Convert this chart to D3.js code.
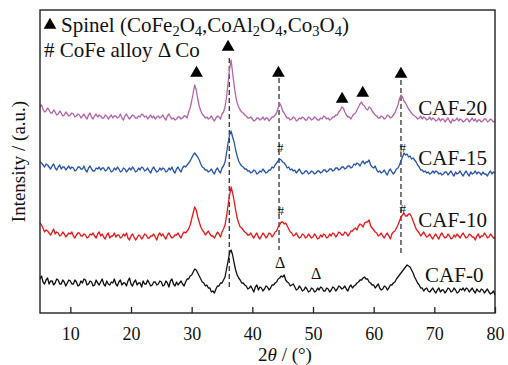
<!DOCTYPE html>
<html>
<head>
<meta charset="utf-8">
<script src="https://cdn.jsdelivr.net/npm/d3@7"></script>
<style>
  body { margin: 0; background: #fff; }
  svg text { font-family: "Liberation Serif", "Times New Roman", serif; fill: #111; }
</style>
</head>
<body>
<svg id="chart" width="508" height="365"></svg>
<script>
// 2theta grid: 5 to 80 deg, 0.25 deg step
const thetaStart = 5;
const thetaStep = 0.25;

const caf0 = [
  34,37,31,29,33,35,29,32,32,28,30,34,33,29,29,33,31,27,30,33,
  32,29,29,33,31,27,28,32,30,34,33,28,29,32,31,27,28,33,30,28,
  31,34,29,27,32,29,28,31,30,34,29,27,31,33,28,30,30,27,32,35,
  29,27,31,33,28,30,30,26,32,29,29,33,30,27,28,31,31,28,29,32,
  31,27,28,32,30,26,32,34,29,27,31,28,30,32,29,27,31,34,34,37,
  38,41,44,43,40,37,34,31,30,27,28,25,25,21,22,20,24,27,27,30,
  30,33,36,44,52,60,63,58,50,43,38,35,33,30,30,28,27,24,25,27,
  24,21,26,28,23,26,25,22,24,27,26,23,25,28,28,30,31,34,35,37,
  36,38,33,31,30,27,28,29,26,23,24,27,25,22,23,26,24,21,22,25,
  24,21,22,25,23,26,25,22,22,25,24,21,23,26,25,22,24,27,26,24,
  25,27,24,22,26,28,25,27,28,30,31,33,33,35,36,34,34,31,30,28,
  28,25,27,29,25,23,24,27,26,23,25,28,28,30,31,34,36,38,40,42,
  44,46,48,47,46,43,40,36,33,30,28,25,25,22,24,25,22,21,23,25,
  22,20,23,25,21,23,23,20,22,25,24,21,22,25,23,20,21,24,23,25,
  22,25,24,21,23,25,22,20,24,22,21,24,23,20,22,24,21,19,20,22,
  18
];
const caf10 = [
  40,38,35,31,33,32,30,28,31,34,29,31,30,27,28,31,29,26,28,30,
  29,31,27,25,28,30,30,27,27,29,28,25,26,29,28,30,27,25,29,31,
  27,29,26,24,28,30,25,27,27,30,26,28,28,25,26,29,27,30,25,23,
  27,29,26,23,25,28,27,24,26,29,28,25,25,27,27,29,26,23,28,30,
  27,29,26,24,28,30,27,25,26,28,28,30,27,25,29,31,30,32,34,38,
  44,50,56,53,46,41,36,33,31,28,30,32,29,27,27,25,28,31,29,26,
  31,34,38,47,58,68,76,70,62,53,45,40,36,35,33,31,30,28,28,30,
  27,25,28,30,26,24,27,30,28,25,27,30,29,26,28,31,32,36,38,41,
  41,39,40,37,34,31,30,27,28,30,27,25,26,29,28,25,26,29,27,25,
  26,29,27,24,25,28,26,29,28,25,26,29,27,30,29,26,28,31,30,28,
  28,31,30,27,29,32,32,34,35,33,37,39,38,36,40,41,41,43,37,35,
  33,31,30,27,28,30,27,25,28,30,27,24,29,31,32,35,38,42,46,48,
  50,47,47,49,49,46,42,38,34,32,30,27,29,31,28,26,27,29,26,24,
  27,29,26,24,28,30,27,25,26,29,27,24,25,28,26,29,27,25,28,30,
  27,25,26,29,28,26,26,23,27,29,25,27,27,30,28,25,26,29,27,25,
  25
];
const caf15 = [
  36,35,33,31,34,33,31,29,32,34,30,28,31,33,29,31,31,28,30,32,
  29,31,30,27,28,31,31,29,29,32,28,26,30,32,29,27,27,30,29,31,
  28,30,30,27,28,31,29,26,27,30,28,31,29,26,27,30,29,26,28,30,
  28,31,29,26,27,30,28,31,30,27,28,30,27,25,29,31,28,26,27,30,
  28,30,29,26,27,30,28,31,27,25,29,31,28,26,30,32,31,33,35,37,
  40,43,45,43,41,38,34,31,30,28,28,26,27,29,26,24,28,30,27,25,
  30,32,36,45,55,63,67,61,56,48,42,37,34,32,31,29,29,27,27,25,
  26,28,27,24,25,27,26,29,27,25,26,28,28,31,30,33,35,37,39,38,
  36,35,33,30,31,28,29,27,28,25,27,29,26,24,25,27,27,24,25,27,
  26,24,25,27,27,25,26,28,28,26,27,29,29,27,28,30,30,28,29,31,
  31,29,30,32,32,30,31,34,33,35,34,32,35,37,34,36,36,38,33,31,
  30,32,28,26,27,25,26,28,25,23,27,29,26,24,26,29,30,33,37,41,
  45,43,44,41,42,39,40,38,36,33,31,28,28,26,27,25,26,24,25,27,
  25,27,26,24,25,23,24,26,26,23,25,27,24,22,26,24,25,27,24,22,
  25,27,24,22,26,24,25,27,24,26,25,23,26,24,24,22,25,27,24,26,
  25
];
const caf20 = [
  36,38,34,31,32,35,33,30,30,33,31,28,29,32,30,27,28,31,29,27,
  28,30,29,26,27,29,28,25,27,29,26,24,28,30,26,24,27,29,26,28,
  27,25,25,28,27,24,26,28,25,27,27,25,26,29,25,23,27,29,26,24,
  26,28,27,25,25,27,26,29,28,26,27,24,26,28,25,27,24,26,27,25,
  26,28,25,23,27,29,26,24,25,23,24,26,26,24,25,27,27,25,31,35,
  42,50,58,53,44,37,32,29,27,25,26,24,25,27,24,22,25,27,26,24,
  29,31,36,46,60,74,83,70,58,47,40,36,33,31,30,28,27,25,25,26,
  24,22,23,25,25,23,24,26,23,25,25,22,24,26,26,28,30,35,40,37,
  32,30,27,25,25,23,24,26,25,22,23,25,24,26,25,23,23,26,25,23,
  24,26,25,23,23,25,24,27,26,24,25,23,24,26,26,28,28,31,33,36,
  35,31,28,26,26,24,27,29,30,33,36,39,41,38,37,34,33,36,35,32,
  30,28,27,25,25,27,26,24,25,28,27,25,26,28,30,34,38,44,48,46,
  42,40,37,34,32,30,28,27,26,24,25,27,24,26,25,23,24,26,23,25,
  24,22,23,25,22,24,24,21,23,25,22,20,24,22,23,25,22,24,23,21,
  22,24,24,21,23,25,22,24,21,23,23,21,22,24,24,21,22,24,23,21,
  22
];

const seriesNames = ["CAF-0", "CAF-10", "CAF-15", "CAF-20"];
const seriesValues = [caf0, caf10, caf15, caf20];
const seriesOffsets = [0, 50, 115, 170];
const seriesColors = ["#111111", "#e3191f", "#2a55a5", "#b166a8"];
const labelTheta = [78.1, 78.7, 78.7, 78.7];
const labelY = [31, 86, 148, 198];

// annotations
const spinelTheta = [30.8, 36.0, 44.3, 54.8, 58.2, 64.5];
const spinelY = [240, 266, 240, 214, 220, 239];
const dashTheta = [36.2, 44.4, 64.5];
const dashTop = [255, 235, 233];
const dashBottom = [23, 63, 57];
const hashTheta = [44.6, 64.8, 44.7, 64.8];
const hashY = [161, 161, 98, 100];
const coTheta = [44.6, 50.5];
const coY = [45, 34];

const xTicks = [10, 20, 30, 40, 50, 60, 70, 80];

const FONT = '"Liberation Serif", "Times New Roman", serif';
const svg = d3.select("#chart").style("font-family", FONT);
const margin = { top: 10, right: 13, bottom: 52, left: 40 };
const W = 508, H = 365;

const x = d3.scaleLinear().domain([5, 80]).range([margin.left, W - margin.right]);
const y = d3.scaleLinear().domain([0, 303]).range([H - margin.bottom, margin.top]);

const plotB = H - margin.bottom;

// dashed reference lines
svg.append("g").selectAll("line")
  .data(dashTheta)
  .join("line")
  .attr("x1", d => x(d)).attr("x2", d => x(d))
  .attr("y1", (d, i) => y(dashTop[i]))
  .attr("y2", (d, i) => y(dashBottom[i]))
  .attr("stroke", "#333")
  .attr("stroke-width", 1.3)
  .attr("stroke-dasharray", "5,3");

// patterns
seriesValues.forEach((vals, s) => {
  const line = d3.line()
    .x((d, i) => x(thetaStart + i * thetaStep))
    .y(d => y(d + seriesOffsets[s]));
  svg.append("path")
    .datum(vals)
    .attr("fill", "none")
    .attr("stroke", seriesColors[s])
    .attr("stroke-width", 1.3)
    .attr("stroke-linejoin", "round")
    .attr("d", line);

  svg.append("text")
    .attr("x", x(labelTheta[s]))
    .attr("y", y(labelY[s]))
    .attr("text-anchor", "end")
    .attr("font-size", 21)
    .text(seriesNames[s]);
});

// spinel triangles
const tri = d3.symbol().type(d3.symbolTriangle).size(70);
svg.append("g").selectAll("path")
  .data(spinelTheta)
  .join("path")
  .attr("d", tri)
  .attr("transform", (d, i) => `translate(${x(d)},${y(spinelY[i])})`)
  .attr("fill", "#000");

// alloy hashes
svg.append("g").selectAll("text")
  .data(hashTheta)
  .join("text")
  .attr("x", d => x(d))
  .attr("y", (d, i) => y(hashY[i]))
  .attr("text-anchor", "middle")
  .attr("font-size", 13)
  .text("#");

// Co deltas
svg.append("g").selectAll("text")
  .data(coTheta)
  .join("text")
  .attr("x", d => x(d))
  .attr("y", (d, i) => y(coY[i]))
  .attr("text-anchor", "middle")
  .attr("font-size", 16)
  .text("\u0394");

// legend
svg.append("path")
  .attr("d", tri)
  .attr("transform", "translate(50,25)")
  .attr("fill", "#000");

const leg = svg.append("text").attr("x", 61).attr("y", 32).attr("font-size", 21);
const parts = [["Spinel (CoFe", 0], ["2", 1], ["O", 0], ["4", 1], [",CoAl", 0], ["2", 1], ["O", 0], ["4", 1], [",Co", 0], ["3", 1], ["O", 0], ["4", 1], [")", 0]];
let lowered = false;
parts.forEach(([t, sub]) => {
  let dy = 0;
  if (sub && !lowered) { dy = 4; lowered = true; }
  else if (!sub && lowered) { dy = -4; lowered = false; }
  leg.append("tspan")
    .attr("font-size", sub ? 14.5 : 21)
    .attr("dy", dy)
    .text(t);
});

svg.append("text")
  .attr("x", 44).attr("y", 57)
  .attr("font-size", 21)
  .text("# CoFe alloy \u0394 Co");

// frame
svg.append("rect")
  .attr("x", margin.left).attr("y", margin.top)
  .attr("width", W - margin.left - margin.right)
  .attr("height", plotB - margin.top)
  .attr("fill", "none")
  .attr("stroke", "#222")
  .attr("stroke-width", 1.4);

// x axis
const xAxis = d3.axisBottom(x).tickValues(xTicks).tickSize(-6).tickPadding(14).tickSizeOuter(0);
const gx = svg.append("g")
  .attr("transform", `translate(0,${plotB})`)
  .call(xAxis)
  .attr("font-family", null);
gx.select(".domain").remove();
gx.selectAll("line").attr("stroke", "#222").attr("stroke-width", 1.3);
gx.selectAll("text")
  .attr("font-size", 18)
  .attr("fill", "#111");

// axis titles
const xt = svg.append("text")
  .attr("x", 285).attr("y", 361)
  .attr("text-anchor", "middle")
  .attr("font-size", 19);
xt.append("tspan").text("2");
xt.append("tspan").attr("font-style", "italic").text("\u03b8");
xt.append("tspan").text(" / (\u00b0)");

svg.append("text")
  .attr("transform", `translate(25,${(margin.top + plotB) / 2}) rotate(-90)`)
  .attr("text-anchor", "middle")
  .attr("font-size", 19)
  .text("Intensity / (a.u.)");

svg.selectAll("text").style("font-family", FONT);
</script>
</body>
</html>
